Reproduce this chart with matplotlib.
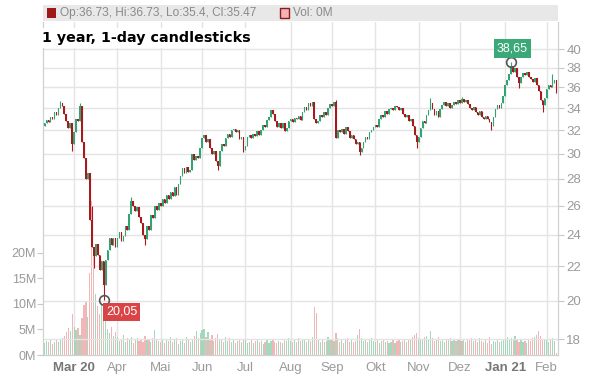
import matplotlib
matplotlib.use("Agg")
import matplotlib.pyplot as plt
from matplotlib.patches import Rectangle
from matplotlib.ticker import NullLocator
import numpy as np

plt.rcParams["font.family"] = ["Liberation Sans", "DejaVu Sans"]

# Schlusskurse je Handelstag
close_feb20 = [32.6, 32.9, 32.7, 33.2, 33.0, 33.6, 33.4, 34.0, 34.5, 34.2, 33.5, 32.8, 32.2, 32.6, 30.8]
close_mar20 = [31.8, 33.0, 32.8, 34.2, 31.0, 29.6, 28.0, 28.4, 25.0, 23.2, 22.6, 23.4, 22.7, 21.8, 22.3, 20.9,
               22.4, 23.0, 23.8, 23.3, 23.8, 23.2]
close_apr20 = [23.8, 24.2, 23.6, 23.9, 24.6, 24.3, 25.4, 26.3, 26.0, 25.6, 25.9, 25.2, 24.8, 24.0, 23.7, 24.6,
               24.3, 25.3, 25.1, 26.0, 25.7, 26.2]
close_may20 = [26.0, 26.5, 26.2, 26.8, 26.5, 27.0, 26.7, 27.4, 26.8, 27.6, 28.2, 28.8, 28.4, 28.9, 28.5, 28.7,
               30.0, 29.5, 29.8, 29.6, 30.5]
close_jun20 = [31.3, 31.6, 31.0, 31.2, 30.5, 30.0, 30.2, 29.4, 29.0, 30.2, 30.8, 30.6, 31.3, 31.7, 31.4, 32.0,
               32.1, 31.8, 32.0, 31.2, 31.4, 30.3]
close_jul20 = [30.6, 31.4, 31.6, 31.3, 31.7, 31.5, 31.9, 31.6, 32.0, 32.5, 32.3, 32.9, 33.2, 33.8, 33.5, 32.8,
               32.3, 32.6, 32.2, 32.6, 31.9, 32.2, 32.8]
close_aug20 = [33.0, 32.7, 33.1, 33.0, 33.3, 32.9, 33.6, 34.1, 33.8, 34.5, 34.2, 34.6, 33.0, 32.6, 32.8, 33.4,
               33.2, 33.6, 33.4, 34.0, 34.4]
close_sep20 = [34.2, 34.6, 31.3, 32.0, 31.8, 32.1, 31.7, 32.3, 31.9, 31.3, 31.6, 31.2, 30.8, 31.0, 30.1, 30.5,
               31.0, 31.4, 31.2, 31.8, 32.0, 32.3]
close_oct20 = [32.5, 32.3, 33.0, 33.4, 33.2, 33.7, 33.5, 33.9, 34.0, 33.8, 34.2, 34.1, 33.8, 34.0, 33.5, 33.2,
               33.4, 32.8, 33.0, 32.4, 31.6, 31.0]
close_nov20 = [31.4, 32.2, 32.8, 32.6, 33.4, 33.8, 34.5, 33.9, 33.4, 33.7, 33.2, 33.9, 34.3, 34.6, 34.2, 34.5,
               34.0, 34.3, 34.6, 34.4, 34.8]
close_dec20 = [34.5, 34.9, 34.6, 34.8, 34.4, 34.0, 33.8, 34.1, 33.6, 33.4, 33.7, 33.2, 33.0, 33.3, 33.0, 32.7,
               32.4, 33.2, 33.9, 34.3, 34.0, 34.5, 35.2]
close_jan21 = [36.2, 36.7, 37.4, 38.2, 37.6, 38.0, 37.0, 36.4, 37.0, 37.5, 37.2, 37.6, 37.0, 36.8, 36.5, 36.9,
               36.2, 35.6, 34.8, 34.3, 35.0]
close_feb21 = [35.8, 36.2, 36.0, 36.4, 36.7, 35.47]

# Umsatz in Mio. Stück
vol_feb20 = [2.4, 2.8, 2.6, 3.0, 2.2, 2.5, 2.9, 2.6, 3.1, 3.4, 3.8, 4.5, 5.2, 4.6, 8.0]
vol_mar20 = [5.5, 4.8, 5.2, 4.0, 7.2, 9.8, 10.5, 7.5, 16.0, 30.0, 20.5, 12.0, 9.5, 8.0, 10.0, 6.8, 7.5, 5.0,
             4.2, 5.5, 3.8, 4.4]
vol_apr20 = [3.5, 2.8, 3.2, 4.0, 2.6, 3.3, 2.9, 3.6, 2.4, 3.0, 3.4, 2.7, 3.1, 2.5, 3.8, 2.9, 3.0, 2.6, 3.4,
             4.8, 3.1, 2.7]
vol_may20 = [2.6, 3.0, 2.4, 3.2, 2.8, 3.5, 2.5, 2.9, 3.3, 2.2, 2.7, 3.1, 2.4, 3.6, 2.9, 2.6, 3.0, 3.8, 4.6,
             3.4, 4.2]
vol_jun20 = [4.8, 5.0, 3.6, 4.4, 3.2, 3.9, 2.8, 3.4, 4.1, 2.9, 3.2, 2.5, 3.6, 2.8, 3.3, 2.6, 3.0, 2.4, 2.8,
             3.1, 2.6, 2.9]
vol_jul20 = [3.0, 2.4, 2.6, 2.9, 2.3, 2.7, 3.1, 2.5, 2.8, 2.2, 2.6, 3.0, 2.4, 2.7, 3.2, 2.5, 2.3, 2.8, 2.6,
             2.4, 2.9, 2.7, 3.3]
vol_aug20 = [2.8, 2.5, 3.1, 2.6, 3.4, 2.7, 2.9, 3.2, 2.6, 3.0, 2.8, 3.6, 9.3, 8.2, 2.9, 2.6, 3.2, 2.5, 2.8,
             3.6, 3.1]
vol_sep20 = [3.0, 2.7, 4.2, 3.4, 2.6, 3.1, 2.4, 2.9, 3.3, 2.6, 3.0, 2.5, 2.8, 3.9, 5.0, 3.4, 2.8, 3.1, 2.6,
             2.9, 3.3, 2.7]
vol_oct20 = [2.6, 2.9, 2.4, 2.7, 3.0, 2.5, 2.8, 2.3, 2.6, 3.1, 2.4, 2.7, 2.9, 2.5, 2.8, 3.2, 2.6, 3.0, 3.2,
             3.6, 4.0, 4.3]
vol_nov20 = [3.4, 3.0, 3.2, 3.5, 3.8, 3.1, 4.6, 3.3, 2.7, 3.0, 3.5, 2.8, 3.1, 2.6, 3.0, 2.9, 3.3, 2.7, 3.1,
             2.8, 3.2]
vol_dec20 = [3.0, 2.8, 3.2, 2.6, 3.1, 2.9, 3.4, 2.7, 3.0, 2.5, 3.3, 2.8, 2.6, 3.0, 2.4, 3.5, 2.2, 2.7, 2.5,
             3.0, 2.6, 2.8, 3.1]
vol_jan21 = [3.2, 3.6, 3.0, 3.4, 3.1, 3.8, 2.9, 2.6, 3.2, 2.5, 2.8, 2.4, 3.0, 2.7, 3.3, 3.6, 4.0, 4.7, 3.8,
             3.2, 2.9]
vol_feb21 = [3.0, 2.6, 2.9, 3.4, 2.7, 0.3]

# auffällige Dochte (Index Handelstag -> Kurs)
wick_high = {8: 34.7, 18: 34.5, 23: 28.0, 24: 26.0, 44: 26.6, 148: 34.8, 196: 35.0, 212: 35.1,
             237: 38.65, 258: 37.3, 260: 36.73}
wick_low = {14: 30.2, 25: 21.9, 30: 20.05, 51: 23.3, 88: 28.7, 101: 30.1, 160: 29.9, 189: 30.5,
            227: 32.0, 241: 35.9, 253: 33.6, 260: 35.4}
first_open = 32.4
last_open = 36.73

month_labels = ["Mar 20", "Apr", "Mai", "Jun", "Jul", "Aug", "Sep", "Okt", "Nov", "Dez", "Jan 21", "Feb"]
price_ticks = [18, 20, 22, 24, 26, 28, 30, 32, 34, 36, 38, 40]
vol_ticks = [0, 5, 10, 15, 20]

close_months = [close_feb20, close_mar20, close_apr20, close_may20, close_jun20, close_jul20, close_aug20,
                close_sep20, close_oct20, close_nov20, close_dec20, close_jan21, close_feb21]
vol_months = [vol_feb20, vol_mar20, vol_apr20, vol_may20, vol_jun20, vol_jul20, vol_aug20, vol_sep20,
              vol_oct20, vol_nov20, vol_dec20, vol_jan21, vol_feb21]

closes = np.array(sum(close_months, []))
volumes = np.array(sum(vol_months, []))
opens = np.concatenate([[first_open], closes[:-1]])
opens[-1] = last_open
highs = np.maximum(opens, closes)
lows = np.minimum(opens, closes)
for i, v in wick_high.items():
    highs[i] = max(highs[i], v)
for i, v in wick_low.items():
    lows[i] = min(lows[i], v)
x = np.arange(len(closes))
month_starts = np.cumsum([len(m) for m in close_months])[:-1]

UP = "#34a373"
DOWN = "#a8191c"
GRID = "#e4e4e4"
TXT = "#9a9a9a"

W, H = 595, 380
fig = plt.figure(figsize=(W / 100, H / 100), dpi=100)
ax_vol = fig.add_axes([43 / W, 25 / H, 515 / W, 333 / H])
ax = ax_vol.twinx()

up = closes >= opens

# Volumen
ax_vol.bar(x, volumes, width=0.6, color=np.where(up, "#93d4b3", "#f0a9a9"), alpha=0.85, zorder=2)
ax_vol.set_ylim(0, 65)
ax_vol.set_yticks(vol_ticks)
ax_vol.set_yticklabels([f"{v}M" for v in vol_ticks])
ax_vol.set_xlim(-0.8, len(x) - 0.2)
ax_vol.set_xticks(month_starts)
ax_vol.set_xticklabels(month_labels)
ax_vol.grid(axis="x", color=GRID, lw=1)
ax_vol.set_axisbelow(True)
ax_vol.tick_params(axis="x", length=0, pad=5, labelsize=9.5, labelcolor=TXT)
ax_vol.tick_params(axis="y", length=4, color="#c8c8c8", pad=1, labelsize=9, labelcolor=TXT)
for lbl in ax_vol.get_xticklabels():
    if lbl.get_text() in ("Mar 20", "Jan 21"):
        lbl.set_fontweight("bold")
        lbl.set_color("#777777")

# Kerzen
cols = np.where(up, UP, DOWN)
ax.vlines(x, lows, highs, color=cols, lw=0.8, zorder=3)
ax.bar(x, np.maximum(np.abs(closes - opens), 0.06), bottom=np.minimum(opens, closes),
       width=0.8, color=cols, zorder=4)
ax.set_yscale("log")
ax.set_ylim(17.23, 43.1)
ax.yaxis.set_minor_locator(NullLocator())
ax.set_yticks(price_ticks)
ax.set_yticklabels([str(t) for t in price_ticks])
ax.grid(axis="y", color=GRID, lw=1, zorder=0)
ax.tick_params(axis="y", length=4, color="#c8c8c8", pad=2, labelsize=9.5, labelcolor=TXT)

for a in (ax, ax_vol):
    a.spines["top"].set_visible(False)
    for s in ("left", "right", "bottom"):
        a.spines[s].set_color("#d0d0d0")

# Hoch / Tief markieren
i_max = int(np.argmax(highs))
i_min = int(np.argmin(lows))
for i, v, col, off in [(i_max, highs[i_max], "#3aa877", (1, 13)), (i_min, lows[i_min], "#d94446", (18, -12))]:
    ax.plot(i, v, "o", mfc="none", mec="#555555", mew=1.2, ms=7, zorder=6)
    ax.annotate(f"{v:.2f}".replace(".", ","), (i, v), xytext=off, textcoords="offset pixels",
                ha="center", va="center", color="white", fontsize=9, zorder=7,
                bbox=dict(boxstyle="square,pad=0.25", fc=col, ec="none"))

# Legendenleiste oben
fig.add_artist(Rectangle((43 / W, 1 - 21 / H), 515 / W, 16 / H, transform=fig.transFigure,
                         fc="#e8e8e8", ec="none"))
fig.add_artist(Rectangle((47 / W, 1 - 18 / H), 9 / W, 10 / H, transform=fig.transFigure,
                         fc="#9e1a1a", ec="none"))
fig.text(60 / W, 1 - 13 / H, f"Op:{opens[-1]:g}, Hi:{highs[-1]:g}, Lo:{lows[-1]:g}, Cl:{closes[-1]:g}",
         fontsize=8.6, color="#8a8a8a", va="center")
fig.add_artist(Rectangle((280 / W, 1 - 18 / H), 9 / W, 10 / H, transform=fig.transFigure,
                         fc="#f3b3b3", ec="#8b1a1a", lw=1))
fig.text(293 / W, 1 - 13 / H, f"Vol: {volumes[-1]:.0f}M", fontsize=8.6, color="#8a8a8a", va="center")

fig.text(42 / W, 1 - 42 / H, "1 year, 1-day candlesticks", fontsize=10.3, fontweight="bold",
         family="DejaVu Sans", color="black", va="baseline",
         bbox=dict(boxstyle="square,pad=0.2", fc="white", ec="none"))

fig.savefig("out.png", dpi=100)
